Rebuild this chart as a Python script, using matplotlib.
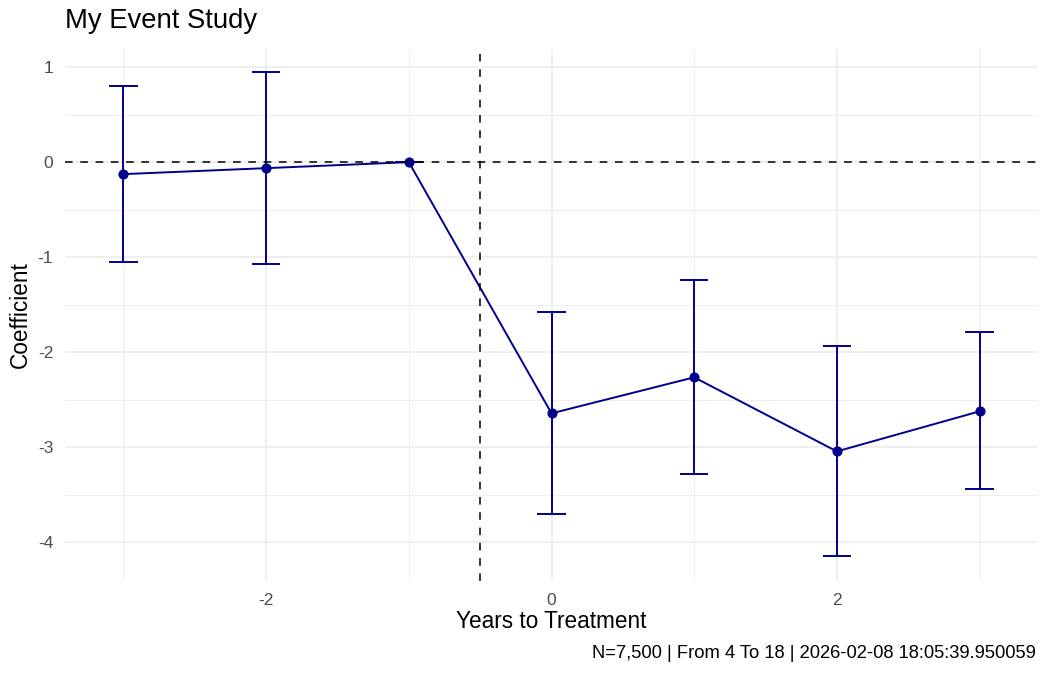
import matplotlib
matplotlib.use("Agg")
import matplotlib.pyplot as plt
import numpy as np

# Data
years = [-3, -2, -1, 0, 1, 2, 3]
coef = [-0.126, -0.063, 0.0, -2.642, -2.263, -3.042, -2.621]
ci_low = [-1.05, -1.074, 0.0, -3.705, -3.284, -4.147, -3.442]
ci_high = [0.80, 0.947, 0.0, -1.579, -1.242, -1.937, -1.789]
x_ticks = [-2, 0, 2]
x_minor = [-3, -1, 1, 3]
y_ticks = [-4, -3, -2, -1, 0, 1]
y_minor = [-4.5, -3.5, -2.5, -1.5, -0.5, 0.5]
title = "My Event Study"
xlabel = "Years to Treatment"
ylabel = "Coefficient"
caption = "N=7,500 | From 4 To 18 | 2026-02-08 18:05:39.950059"

plt.rcParams['font.family'] = ['Liberation Sans', 'DejaVu Sans']

W, H = 1050, 675
fig = plt.figure(figsize=(W / 100, H / 100), dpi=100)
left, right, top, bottom = 65, 1038, 49, 581
ax = fig.add_axes([left / W, 1 - bottom / H, (right - left) / W, (bottom - top) / H])

x = np.array(years, dtype=float)
cap = 0.1
ax.set_xlim(-3.41, 3.41)
ax.set_ylim(-4.405, 1.19)

grid_c = "#EBEBEB"
for v in x_ticks:
    ax.axvline(v, color=grid_c, lw=1.1, zorder=0)
for v in x_minor:
    ax.axvline(v, color=grid_c, lw=0.6, zorder=0)
for v in y_ticks:
    ax.axhline(v, color=grid_c, lw=1.1, zorder=0)
for v in y_minor:
    ax.axhline(v, color=grid_c, lw=0.6, zorder=0)

col = "#00008B"
ax.vlines(x, ci_low, ci_high, color=col, lw=1.4, zorder=2)
ax.hlines(ci_low, x - cap, x + cap, color=col, lw=1.4, zorder=2)
ax.hlines(ci_high, x - cap, x + cap, color=col, lw=1.4, zorder=2)
ax.plot(x, coef, color=col, lw=1.4, zorder=3)
ax.plot(x, coef, 'o', color=col, ms=6.3, zorder=4)

ax.axhline(0, color="black", lw=1.1, ls=(0, (5, 5)), zorder=5)
ax.axvline(-0.5, color="black", lw=1.1, ls=(0, (5, 5)), zorder=5)

ax.set_xticks(x_ticks)
ax.set_xticklabels([str(t) for t in x_ticks])
ax.set_yticks(y_ticks)
ax.set_yticklabels([str(t) for t in y_ticks])
ax.tick_params(length=0, labelsize=12.5, labelcolor="#4D4D4D", pad=8.5)
for s in ax.spines.values():
    s.set_visible(False)

fig.text((left + right) / 2 / W, 1 - 622 / H, xlabel, fontsize=16.3, ha="center", va="center")
fig.text(20 / W, 1 - (top + bottom) / 2 / H, ylabel, fontsize=16.3, ha="center", va="center",
         rotation=90)
fig.text(left / W, 1 - 21 / H, title, fontsize=19.8, ha="left", va="center")
fig.text(1036 / W, 1 - 653 / H, caption, fontsize=13.2, ha="right", va="center")

fig.savefig("out.png", dpi=100, facecolor="white")
